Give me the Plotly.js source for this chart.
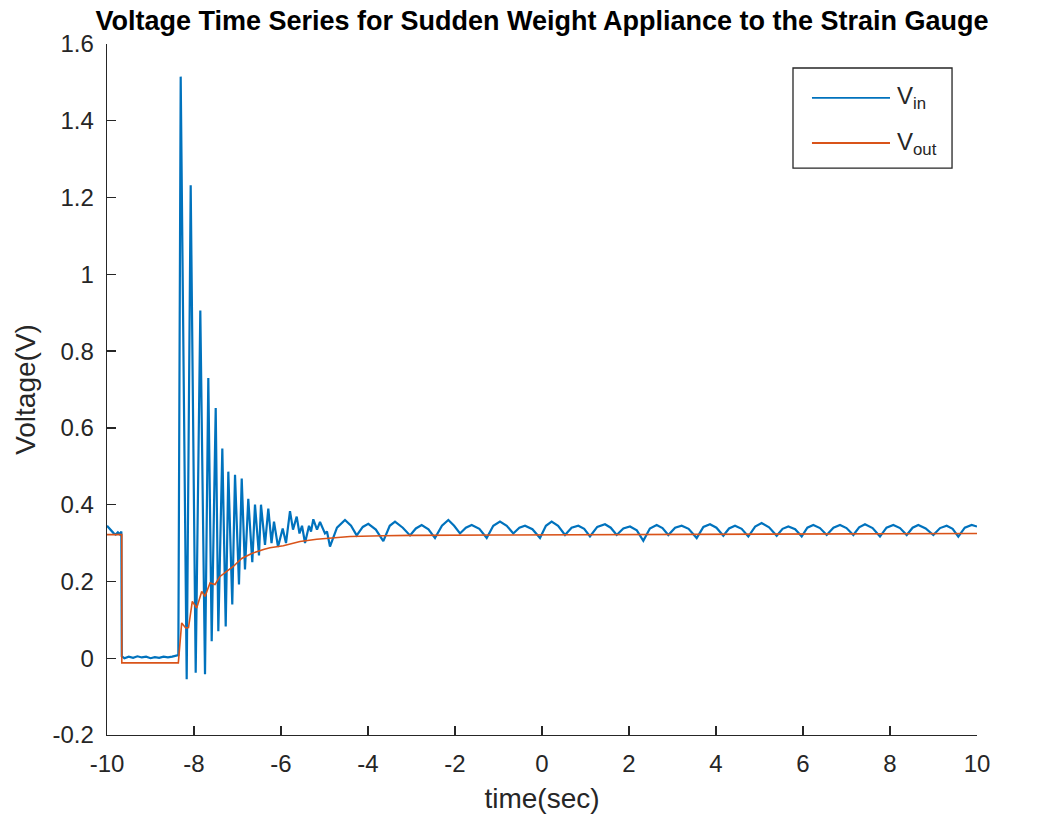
<!DOCTYPE html>
<html>
<head>
<meta charset="utf-8">
<script src="https://cdn.plot.ly/plotly-3.0.1.min.js"></script>
<style>
  html, body { margin: 0; padding: 0; background: #ffffff; }
  #chart { width: 1049px; height: 820px; }
</style>
</head>
<body>
<div id="chart"></div>
<script>
// ---- Data ----
const timeIn = [
  -10.00, -9.95, -9.90, -9.85, -9.80, -9.75, -9.70, -9.67, -9.66, -9.60,
  -9.50, -9.40, -9.30, -9.20, -9.10, -9.00, -8.90, -8.80, -8.70, -8.60,
  -8.50, -8.40, -8.36,
  -8.306, -8.168, -8.076, -7.961, -7.855, -7.747, -7.671, -7.593, -7.501, -7.441,
  -7.349, -7.271, -7.211, -7.120, -7.057, -6.966, -6.903, -6.828, -6.752, -6.660,
  -6.598, -6.506, -6.460,
  -6.368, -6.292, -6.218, -6.161, -6.069, -5.961, -5.885, -5.793, -5.724, -5.639,
  -5.575, -5.517, -5.448, -5.356, -5.310, -5.257, -5.172, -5.103, -4.989, -4.943,
  -4.874, -4.713, -4.529, -4.390, -4.260, -4.12, -3.993, -3.82, -3.648, -3.50,
  -3.379, -3.20, -3.034,
  -2.90, -2.766, -2.61, -2.46, -2.30, -2.153, -2.02, -1.885, -1.75, -1.616,
  -1.44, -1.271, -1.12, -0.966, -0.81, -0.66, -0.52, -0.391, -0.22, -0.046,
  0.09, 0.222, 0.37, 0.529, 0.68, 0.835, 0.97, 1.103, 1.27, 1.448,
  1.58, 1.717, 1.87, 2.023, 2.18, 2.329, 2.48, 2.636, 2.77, 2.904,
  3.06, 3.211, 3.37, 3.556, 3.71, 3.862, 4.01, 4.168, 4.30, 4.437,
  4.59, 4.743, 4.90, 5.05, 5.22, 5.395, 5.53, 5.663, 5.82, 5.97,
  6.10, 6.237, 6.39, 6.545, 6.70, 6.851, 7.00, 7.157, 7.29, 7.425,
  7.60, 7.77, 7.92, 8.076, 8.23, 8.384, 8.52, 8.651, 8.82, 8.996,
  9.15, 9.303, 9.44, 9.57, 9.72, 9.878, 10.00
];
const voltIn = [
  0.345, 0.338, 0.330, 0.326, 0.322, 0.328, 0.322, 0.330, 0.005, 0.000,
  0.004, 0.001, 0.005, 0.002, 0.004, 0.000, 0.003, 0.001, 0.004, 0.002,
  0.004, 0.006, 0.008,
  1.515, -0.055, 1.232, -0.038, 0.906, -0.042, 0.730, 0.044, 0.652, 0.070,
  0.546, 0.083, 0.486, 0.140, 0.478, 0.192, 0.468, 0.231, 0.415, 0.250,
  0.400, 0.268, 0.400,
  0.295, 0.390, 0.300, 0.356, 0.290, 0.338, 0.300, 0.383, 0.335, 0.369,
  0.325, 0.345, 0.300, 0.345, 0.330, 0.362, 0.335, 0.355, 0.325, 0.330,
  0.291, 0.340, 0.360, 0.345, 0.320, 0.342, 0.350, 0.335, 0.305, 0.345,
  0.356, 0.340, 0.320,
  0.338, 0.347, 0.336, 0.313, 0.345, 0.360, 0.345, 0.325, 0.340, 0.347,
  0.337, 0.313, 0.345, 0.356, 0.345, 0.325, 0.340, 0.345, 0.336, 0.313,
  0.345, 0.356, 0.345, 0.321, 0.340, 0.345, 0.337, 0.317, 0.342, 0.349,
  0.340, 0.321, 0.338, 0.343, 0.333, 0.306, 0.338, 0.347, 0.339, 0.321,
  0.340, 0.345, 0.337, 0.313, 0.342, 0.349, 0.340, 0.319, 0.338, 0.345,
  0.337, 0.317, 0.343, 0.352, 0.341, 0.319, 0.337, 0.343, 0.336, 0.317,
  0.340, 0.347, 0.339, 0.321, 0.340, 0.347, 0.339, 0.321, 0.341, 0.349,
  0.339, 0.317, 0.340, 0.347, 0.339, 0.321, 0.340, 0.347, 0.338, 0.321,
  0.339, 0.345, 0.337, 0.317, 0.340, 0.347, 0.343
];

const timeOut = [
  -10.00, -9.66, -9.66, -8.36, -8.283, -8.191, -8.126, -8.039, -7.938, -7.823,
  -7.747, -7.632, -7.517, -7.402, -7.248, -7.097, -6.903, -6.674, -6.384, -6.253,
  -5.947, -5.563, -5.179, -4.805, -4.414, -3.655, -3.034, -1.00, 1.00, 4.00,
  7.00, 10.00
];
const voltOut = [
  0.322, 0.322, -0.012, -0.012, 0.092, 0.079, 0.080, 0.148, 0.131, 0.174,
  0.161, 0.196, 0.192, 0.213, 0.226, 0.239, 0.260, 0.273, 0.284, 0.288,
  0.293, 0.304, 0.310, 0.313, 0.317, 0.319, 0.320, 0.321, 0.322, 0.323,
  0.324, 0.325
];

const xTickVals = [-10, -8, -6, -4, -2, 0, 2, 4, 6, 8, 10];
const xTickText = ["-10", "-8", "-6", "-4", "-2", "0", "2", "4", "6", "8", "10"];
const yTickVals = [-0.2, 0, 0.2, 0.4, 0.6, 0.8, 1, 1.2, 1.4, 1.6];
const yTickText = ["-0.2", "0", "0.2", "0.4", "0.6", "0.8", "1", "1.2", "1.4", "1.6"];

const seriesNames = ["V<sub>in</sub>", "V<sub>out</sub>"];
const seriesColors = ["#0072BD", "#D95319"];

// ---- Chart ----
const axisColor = "#262626";
const baseFont = "Liberation Sans, Arial, Helvetica, sans-serif";

const traces = [
  {
    x: timeIn, y: voltIn, type: "scatter", mode: "lines",
    name: seriesNames[0], showlegend: false,
    line: { color: seriesColors[0], width: 2.2 }
  },
  {
    x: timeOut, y: voltOut, type: "scatter", mode: "lines",
    name: seriesNames[1], showlegend: false,
    line: { color: seriesColors[1], width: 1.6 }
  }
];

// Legend box (MATLAB style: long sample lines), placed in paper coordinates
const legBox = { x0: 0.7885, x1: 0.9713, y0: 0.8205, y1: 0.9653 };
const legRows = [0.9219, 0.8567];
const legLineX = [0.8103, 0.9000];
const legTextX = 0.9057;

const shapes = [
  { type: "rect", xref: "paper", yref: "paper",
    x0: legBox.x0, x1: legBox.x1, y0: legBox.y0, y1: legBox.y1,
    line: { color: axisColor, width: 1.3 }, fillcolor: "#ffffff", layer: "above" }
];
const annotations = [];
seriesNames.forEach((nm, i) => {
  shapes.push({ type: "line", xref: "paper", yref: "paper",
    x0: legLineX[0], x1: legLineX[1], y0: legRows[i], y1: legRows[i],
    line: { color: seriesColors[i], width: 1.8 }, layer: "above" });
  annotations.push({ xref: "paper", yref: "paper", x: legTextX, y: legRows[i],
    xanchor: "left", yanchor: "middle", showarrow: false, text: nm,
    font: { size: 24, color: axisColor } });
});

const layout = {
  width: 1049, height: 820,
  paper_bgcolor: "#ffffff", plot_bgcolor: "#ffffff",
  margin: { l: 107, r: 72, t: 44, b: 85 },
  font: { family: baseFont, color: axisColor, size: 24 },
  title: {
    text: "<b>Voltage Time Series for Sudden Weight Appliance to the Strain Gauge</b>",
    font: { family: baseFont, size: 27, color: "#000000" },
    x: 0.5, xref: "paper", xanchor: "center",
    y: 0.975, yref: "container", yanchor: "middle"
  },
  xaxis: {
    range: [-10, 10],
    tickmode: "array", tickvals: xTickVals, ticktext: xTickText,
    ticks: "inside", ticklen: 9, tickwidth: 1.3, tickcolor: axisColor,
    showline: true, linecolor: axisColor, linewidth: 1.3, mirror: false,
    showgrid: false, zeroline: false,
    ticklabelstandoff: 7,
    tickfont: { size: 24, color: axisColor },
    title: { text: "time(sec)", font: { size: 28, color: axisColor }, standoff: 12 }
  },
  yaxis: {
    range: [-0.2, 1.6],
    tickmode: "array", tickvals: yTickVals, ticktext: yTickText,
    ticks: "inside", ticklen: 9, tickwidth: 1.3, tickcolor: axisColor,
    showline: true, linecolor: axisColor, linewidth: 1.3, mirror: false,
    showgrid: false, zeroline: false,
    ticklabelstandoff: 7,
    tickfont: { size: 24, color: axisColor },
    title: { text: "Voltage(V)", font: { size: 28, color: axisColor }, standoff: 8 }
  },
  showlegend: false,
  shapes: shapes,
  annotations: annotations
};

Plotly.newPlot("chart", traces, layout, { displayModeBar: false, staticPlot: true });
</script>
</body>
</html>
